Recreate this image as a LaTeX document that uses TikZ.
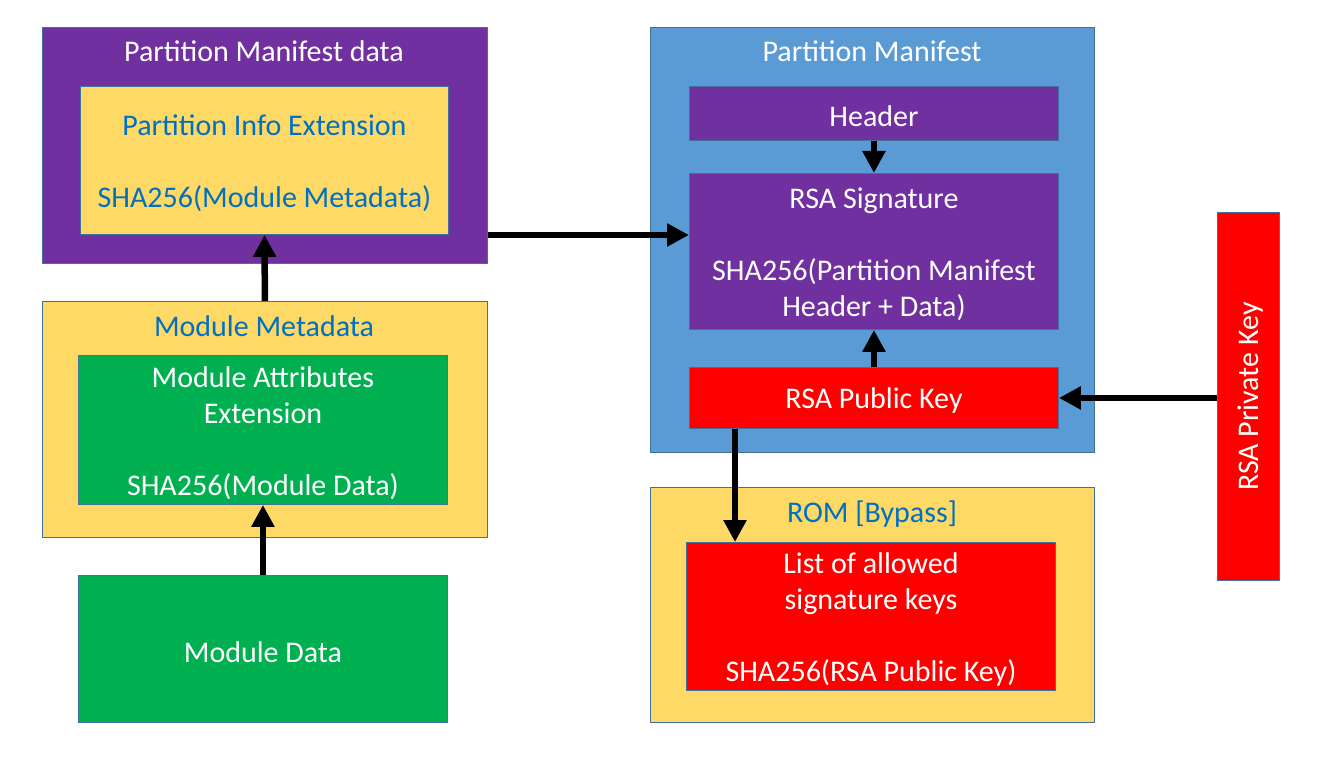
\documentclass[tikz,border=0pt]{standalone}
\usepackage{fontspec}
\setmainfont{Carlito}
\usetikzlibrary{arrows.meta,calc}
\definecolor{pmpurple}{HTML}{7030A0}
\definecolor{pmyellow}{HTML}{FFD966}
\definecolor{pmgreen}{HTML}{00B050}
\definecolor{pmblue}{HTML}{5B9BD5}
\definecolor{pmred}{HTML}{FF0000}
\definecolor{txtblue}{HTML}{0070C0}
\definecolor{pmborder}{HTML}{41719C}
\begin{document}
\begin{tikzpicture}[x=1pt,y=-1pt,
  font=\fontsize{30}{36}\selectfont,
  boxnode/.style={draw=pmborder, line width=0.9pt, anchor=north west, inner sep=0pt},
  bodytxt/.style={align=center, inner sep=0pt, yshift=-3pt},
  whitetxt/.style={text=white},
  bluetxt/.style={text=txtblue},
  titletxt/.style={anchor=base, inner sep=0pt},
  arr/.style={-{Triangle[width=22pt,length=22pt]}, line width=6.5pt, black}]
\useasboundingbox (0,0) rectangle (1325,759);
\fill[white] (0,0) rectangle (1325,759);
% left column
\node[boxnode, fill=pmpurple, minimum width=445pt, minimum height=236pt] (pmd) at (42,27) {};
\node[titletxt, whitetxt] (pmdt) at (264,62) {Partition Manifest data};
\node[boxnode, fill=pmyellow, minimum width=368pt, minimum height=148pt] (pie) at (80,86) {};
\node[bodytxt, bluetxt] (piet) at (pie.center) {Partition Info Extension\\ \\SHA256(Module Metadata)};
\node[boxnode, fill=pmyellow, minimum width=445pt, minimum height=236pt] (mm) at (42,301) {};
\node[titletxt, bluetxt] (mmt) at (264,336) {Module Metadata};
\node[boxnode, fill=pmgreen, minimum width=369pt, minimum height=149pt] (mae) at (78,355) {};
\node[bodytxt, whitetxt] (maet) at (mae.center) {Module Attributes\\Extension\\ \\SHA256(Module Data)};
\node[boxnode, fill=pmgreen, minimum width=369pt, minimum height=147pt] (md) at (78,575) {};
\node[bodytxt, whitetxt] (mdt) at (md.center) {Module Data};
% right column
\node[boxnode, fill=pmblue, minimum width=444pt, minimum height=425pt] (pm) at (650,27) {};
\node[titletxt, whitetxt] (pmt) at (872,62) {Partition Manifest};
\node[boxnode, fill=pmpurple, minimum width=369pt, minimum height=54pt] (hdr) at (689,86) {};
\node[bodytxt, whitetxt] (hdrt) at (hdr.center) {Header};
\node[boxnode, fill=pmpurple, minimum width=369pt, minimum height=156pt] (sig) at (689,173) {};
\node[bodytxt, whitetxt] (sigt) at (sig.center) {RSA Signature\\ \\SHA256(Partition Manifest\\Header + Data)};
\node[boxnode, fill=pmred, minimum width=369pt, minimum height=61pt] (pub) at (689,367) {};
\node[bodytxt, whitetxt] (pubt) at (pub.center) {RSA Public Key};
\node[boxnode, fill=pmyellow, minimum width=444pt, minimum height=235pt] (rom) at (650,487) {};
\node[titletxt, bluetxt] (romt) at (872,522) {ROM [Bypass]};
\node[boxnode, fill=pmred, minimum width=369pt, minimum height=148pt] (lst) at (686,542) {};
\node[bodytxt, whitetxt] (lstt) at (lst.center) {List of allowed\\signature keys\\ \\SHA256(RSA Public Key)};
\node[boxnode, fill=pmred, minimum width=62pt, minimum height=368pt] (priv) at (1217,212) {};
\node[whitetxt, rotate=90, inner sep=0pt] (privt) at ([xshift=2pt]priv.center) {RSA Private Key};
% arrows
\draw[arr] (md.north) -- (mae.south);
\draw[arr] (mm.north) -- (pie.south);
\draw[arr] (pmd.east |- 0,235) -- (sig.west |- 0,235);
\draw[arr] (hdr.south) -- (sig.north);
\draw[arr] (pub.north) -- (sig.south);
\draw[arr] (priv.west |- pub.east) -- (pub.east);
\draw[arr] (pub.south -| 735,0) -- (lst.north -| 735,0);
\end{tikzpicture}
\end{document}
